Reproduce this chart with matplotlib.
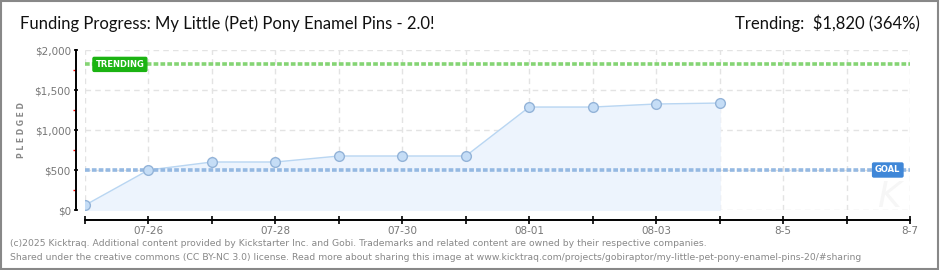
import matplotlib
matplotlib.use("Agg")
import matplotlib.pyplot as plt
import matplotlib.dates as mdates
import numpy as np

# data
dates = ["2025-07-25", "2025-07-26", "2025-07-27", "2025-07-28", "2025-07-29",
         "2025-07-30", "2025-07-31", "2025-08-01", "2025-08-02", "2025-08-03",
         "2025-08-04"]
pledged = [60, 500, 600, 600, 675, 675, 675, 1287, 1287, 1325, 1337]
goal = 500
trending = 1820
x_start, x_end = "2025-07-25", "2025-08-07"
x_label_days = ["2025-07-26", "2025-07-28", "2025-07-30", "2025-08-01",
                "2025-08-03", "2025-08-05", "2025-08-07"]
x_label_text = ["07-26", "07-28", "07-30", "08-01", "08-03", "8-5", "8-7"]
y_ticks = [0, 500, 1000, 1500, 2000]
y_tick_text = ["$0", "$500", "$1,000", "$1,500", "$2,000"]

plt.rcParams['font.family'] = ['DejaVu Sans']
narrow = ['Lato', 'DejaVu Sans']

xd = mdates.date2num(np.array(dates, dtype="datetime64[D]"))
x0 = mdates.date2num(np.datetime64(x_start))
x1 = mdates.date2num(np.datetime64(x_end))
all_days = np.arange(x0, x1 + 1)
label_days = list(mdates.date2num(np.array(x_label_days, dtype="datetime64[D]")))

fig = plt.figure(figsize=(9.4, 2.7), dpi=100)
fig.patch.set_facecolor("white")
# outer frame
fig.add_artist(plt.Rectangle((0.001, 0.002), 0.997, 0.995, transform=fig.transFigure,
                             fill=False, edgecolor="#888888", linewidth=1.5))

ax = fig.add_axes([85 / 940, 1 - 210 / 270, 825 / 940, 160 / 270])
ax.set_xlim(x0, x1)
ax.set_ylim(0, 2000)

# grid
for d in all_days:
    ax.axvline(d, color="#e3e3e3", lw=1, ls=(0, (4, 3)), zorder=0)
for v in y_ticks:
    ax.axhline(v, color="#e3e3e3", lw=1, ls=(0, (4, 3)), zorder=0)

# watermark K
ax.text(0.975, 0.08, "K", transform=ax.transAxes, fontsize=26, color="#f6f6f6",
        style="italic", ha="center", va="center", zorder=0)

# area + line
ax.fill_between(xd, pledged, 0, color="#edf4fd", zorder=1)
ax.plot(xd, pledged, color="#b9d6f2", lw=1, zorder=2)

# goal and trending lines
ax.axhline(goal, color="#95b9e2", lw=2.6, ls=(0, (1.3, 0.6)), zorder=3)
ax.axhline(trending, color="#85d474", lw=2.6, ls=(0, (1.3, 0.6)), zorder=3)

ax.plot(xd, pledged, ls="none", marker="o", ms=7, mfc="#c5ddf6", mec="#93b3d8",
        mew=1, zorder=4)

# labels on the lines
ax.text(x0 + 0.55, trending, "TRENDING", color="white", fontsize=6, fontweight="bold",
        ha="center", va="center", zorder=5,
        bbox=dict(boxstyle="round,pad=0.3,rounding_size=0.15", fc="#1bb312", ec="#1bb312"))
ax.text(x1 - 0.35, goal, "GOAL", color="white", fontsize=6, fontweight="bold",
        ha="center", va="center", zorder=5,
        bbox=dict(boxstyle="round,pad=0.3,rounding_size=0.15", fc="#3f87d8", ec="#3f87d8"))

# spines
for s in ["top", "right"]:
    ax.spines[s].set_visible(False)
ax.spines["left"].set_position(("outward", 6.5))
ax.spines["bottom"].set_position(("outward", 7.2))
for s in ["left", "bottom"]:
    ax.spines[s].set_color("black")
    ax.spines[s].set_linewidth(1.4)

ax.set_yticks(y_ticks)
ax.set_yticklabels(y_tick_text)
ax.set_yticks([250, 750, 1250, 1750], minor=True)
ax.tick_params(axis="y", which="major", direction="inout", length=3.5, width=1.2,
               labelsize=7.5, labelcolor="#777777", pad=2)
ax.tick_params(axis="y", which="minor", direction="out", length=2, width=1,
               color="red")

ax.set_xticks(all_days)
ax.set_xticklabels([x_label_text[label_days.index(d)] if d in label_days else ""
                    for d in all_days])
ax.tick_params(axis="x", direction="inout", length=6, width=1.2, labelsize=7.5,
               labelcolor="#777777", pad=1)

fig.text(22 / 940, 1 - 130 / 270, "P L E D G E D", rotation=90, fontsize=5.5,
         color="#888888", fontweight="bold", ha="center", va="center")

fig.text(20 / 940, 1 - 24 / 270, "Funding Progress: My Little (Pet) Pony Enamel Pins - 2.0!",
         fontsize=12, family=narrow, color="#111111", ha="left", va="center")
fig.text(920 / 940, 1 - 23 / 270, "Trending:  $1,820 (364%)", fontsize=12,
         family=narrow, color="#111111", ha="right", va="center")

fig.text(10 / 940, 1 - 243 / 270,
         "(c)2025 Kicktraq. Additional content provided by Kickstarter Inc. and Gobi. "
         "Trademarks and related content are owned by their respective companies.",
         fontsize=6.7, color="#888888", ha="left", va="center")
fig.text(10 / 940, 1 - 257 / 270,
         "Shared under the creative commons (CC BY-NC 3.0) license. Read more about sharing "
         "this image at www.kicktraq.com/projects/gobiraptor/my-little-pet-pony-enamel-pins-20/#sharing",
         fontsize=6.7, color="#888888", ha="left", va="center")

fig.savefig("out.png", dpi=100, facecolor="white")
